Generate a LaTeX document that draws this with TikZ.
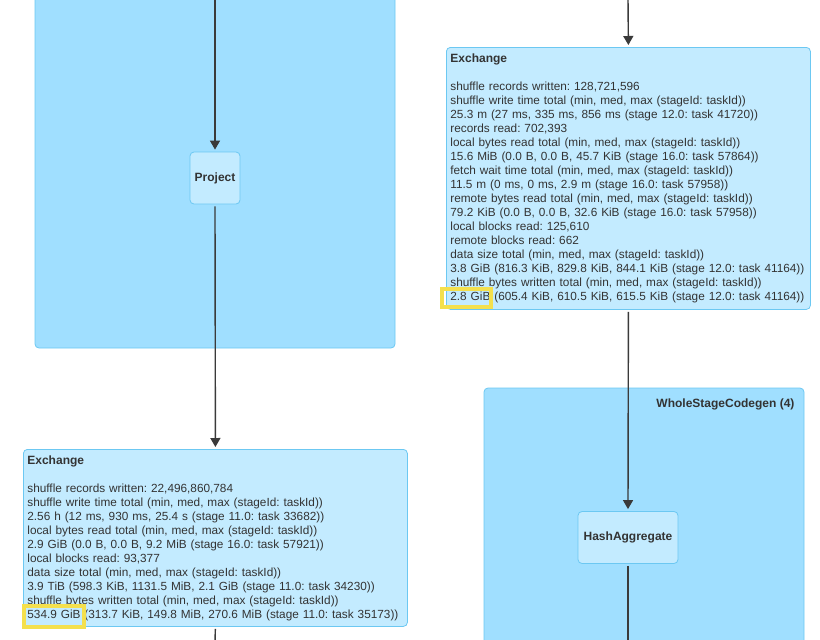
\documentclass[tikz,border=0pt]{standalone}
\usepackage{fontspec}
\setmainfont{Liberation Sans}
\usetikzlibrary{calc}
\usetikzlibrary{arrows.meta}

\definecolor{clusterblue}{HTML}{A0DFFF}
\definecolor{nodeblue}{HTML}{C3EBFF}
\definecolor{strokeblue}{HTML}{6CC8F2}
\definecolor{edgegray}{HTML}{3A3A3A}
\definecolor{textgray}{HTML}{333333}
\definecolor{markyellow}{HTML}{F4E04D}

\frenchspacing
\begin{document}
\begin{tikzpicture}[x=1pt,y=-1pt,
  cluster/.style={fill=clusterblue,draw=strokeblue,line width=0.8pt,rounded corners=4pt},
  op/.style={fill=nodeblue,draw=strokeblue,line width=0.8pt,rounded corners=4pt,text=textgray,inner sep=0pt,font=\bfseries\fontsize{12}{14}\selectfont},
  metrics/.style={fill=nodeblue,draw=strokeblue,line width=0.8pt,rounded corners=4pt,text=textgray,anchor=north west,align=left,inner xsep=4pt,inner ysep=0pt,font=\fontsize{11.8}{14}\selectfont},
  edge/.style={draw=edgegray,line width=1.4pt,-{Triangle[length=9pt,width=10pt]},shorten <=2pt,shorten >=2pt},
  tail/.style={draw=edgegray,line width=1.4pt,shorten <=2pt},
  highlight/.style={draw=markyellow,line width=3.5pt}]

\useasboundingbox (0,0) rectangle (820,640);
\clip (0,0) rectangle (820,640);

% stage clusters
\draw[cluster] (35,-20) rectangle (395,348);
\draw[cluster] (484,388) rectangle (804,680);
\node[anchor=east,text=textgray,font=\bfseries\fontsize{12}{14}\selectfont] (wscg) at (798,404) {WholeStageCodegen (4)};

\coordinate (topL) at (215,-2);
\coordinate (topR) at (628,-2);
\coordinate (botL) at (215,642);
\coordinate (botR) at (628,642);

\node[op,minimum width=50pt,minimum height=52pt] (project) at (215,178) {Project};
\node[op,minimum width=100pt,minimum height=52pt] (hashagg) at (628,537.5) {HashAggregate};

\node[metrics,text width=356pt,minimum height=262pt] (exR) at (446,47) {%
{\bfseries\fontsize{12}{14}\selectfont Exchange}\\[14pt]
shuffle records written: 128,721,596\\
shuffle write time total (min, med, max (stageId: taskId))\\
25.3 m (27 ms, 335 ms, 856 ms (stage 12.0: task 41720))\\
records read: 702,393\\
local bytes read total (min, med, max (stageId: taskId))\\
15.6 MiB (0.0 B, 0.0 B, 45.7 KiB (stage 16.0: task 57864))\\
fetch wait time total (min, med, max (stageId: taskId))\\
11.5 m (0 ms, 0 ms, 2.9 m (stage 16.0: task 57958))\\
remote bytes read total (min, med, max (stageId: taskId))\\
79.2 KiB (0.0 B, 0.0 B, 32.6 KiB (stage 16.0: task 57958))\\
local blocks read: 125,610\\
remote blocks read: 662\\
data size total (min, med, max (stageId: taskId))\\
3.8 GiB (816.3 KiB, 829.8 KiB, 844.1 KiB (stage 12.0: task 41164))\\
shuffle bytes written total (min, med, max (stageId: taskId))\\
2.8 GiB (605.4 KiB, 610.5 KiB, 615.5 KiB (stage 12.0: task 41164))};

\node[metrics,text width=376pt,minimum height=177pt] (exL) at (23,449) {%
{\bfseries\fontsize{12}{14}\selectfont Exchange}\\[14pt]
shuffle records written: 22,496,860,784\\
shuffle write time total (min, med, max (stageId: taskId))\\
2.56 h (12 ms, 930 ms, 25.4 s (stage 11.0: task 33682))\\
local bytes read total (min, med, max (stageId: taskId))\\
2.9 GiB (0.0 B, 0.0 B, 9.2 MiB (stage 16.0: task 57921))\\
local blocks read: 93,377\\
data size total (min, med, max (stageId: taskId))\\
3.9 TiB (598.3 KiB, 1131.5 MiB, 2.1 GiB (stage 11.0: task 34230))\\
shuffle bytes written total (min, med, max (stageId: taskId))\\
534.9 GiB (313.7 KiB, 149.8 MiB, 270.6 MiB (stage 11.0: task 35173))};

% highlighted totals
\draw[highlight] (442,289) rectangle (491,307);
\draw[highlight] (24,606) rectangle (84,627);

\draw[edge] (topL) -- (project.north);
\draw[edge] (project.south) -- (exL.north);
\draw[tail] (exL.south) -- (botL);
\draw[edge] (topR) -- (exR.north);
\draw[edge] (exR.south) -- (hashagg.north);
\draw[tail] (hashagg.south) -- (botR);

\end{tikzpicture}
\end{document}
